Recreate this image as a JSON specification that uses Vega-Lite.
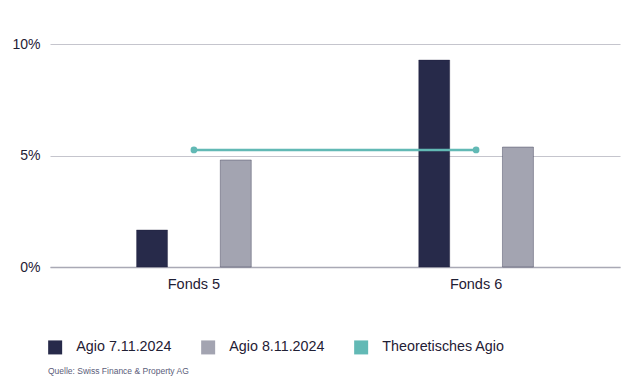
{
  "$schema": "https://vega.github.io/schema/vega-lite/v6.json",
  "width": 570,
  "height": 223,
  "autosize": {"type": "none"},
  "padding": {"left": 50, "top": 44, "right": 21, "bottom": 122},
  "background": "white",
  "title": {
    "text": "Quelle: Swiss Finance & Property AG",
    "orient": "bottom",
    "anchor": "start",
    "frame": "group",
    "offset": 12,
    "dx": -2,
    "fontSize": 8.5,
    "font": "Liberation Sans",
    "fontWeight": "normal",
    "color": "#5b5d7a"
  },
  "data": {
    "values": [
      {"fonds": "Fonds 5", "serie": "Agio 7.11.2024", "wert": 0.0166},
      {"fonds": "Fonds 5", "serie": "Agio 8.11.2024", "wert": 0.048},
      {"fonds": "Fonds 6", "serie": "Agio 7.11.2024", "wert": 0.0928},
      {"fonds": "Fonds 6", "serie": "Agio 8.11.2024", "wert": 0.0538},
      {"fonds": "Fonds 5", "serie": "Theoretisches Agio", "wert": 0.0525},
      {"fonds": "Fonds 6", "serie": "Theoretisches Agio", "wert": 0.0525}
    ]
  },
  "encoding": {
    "x": {
      "field": "fonds",
      "type": "nominal",
      "scale": {"paddingInner": 0, "paddingOuter": 0.01},
      "axis": {
        "title": null,
        "labelAngle": 0,
        "ticks": false,
        "domain": true,
        "domainColor": "#a9a9b5",
        "domainWidth": 1.5,
        "labelPadding": 10,
        "labelFontSize": 14.5,
        "labelColor": "#1f2035",
        "labelFont": "Liberation Sans"
      }
    },
    "y": {
      "field": "wert",
      "type": "quantitative",
      "scale": {"domain": [0, 0.1]},
      "axis": {
        "title": null,
        "values": [0, 0.05, 0.1],
        "format": ".0%",
        "domain": false,
        "ticks": false,
        "grid": true,
        "gridColor": "#c5c5cd",
        "gridWidth": 1.2,
        "labelPadding": 10,
        "labelFontSize": 14,
        "labelColor": "#1f2035",
        "labelFont": "Liberation Sans"
      }
    },
    "color": {
      "field": "serie",
      "type": "nominal",
      "scale": {
        "domain": ["Agio 7.11.2024", "Agio 8.11.2024", "Theoretisches Agio"],
        "range": ["#272a4a", "#a3a4b1", "#62b9b5"]
      },
      "legend": {
        "title": null,
        "orient": "none",
        "legendX": -2,
        "legendY": 296,
        "direction": "horizontal",
        "columns": 3,
        "columnPadding": 29,
        "symbolType": "square",
        "symbolSize": 196,
        "symbolStrokeWidth": 0,
        "symbolOpacity": 1,
        "labelOffset": 14,
        "labelFontSize": 14.3,
        "labelFont": "Liberation Sans",
        "labelColor": "#1f2035"
      }
    }
  },
  "layer": [
    {
      "transform": [{"filter": "datum.serie !== 'Theoretisches Agio'"}],
      "mark": {"type": "bar", "strokeWidth": 1, "stroke": "#1c1e38", "strokeOpacity": 0.35},
      "encoding": {
        "xOffset": {
          "field": "serie",
          "type": "nominal",
          "scale": {"paddingInner": 0.63, "paddingOuter": 1.1}
        }
      }
    },
    {
      "transform": [{"filter": "datum.serie === 'Theoretisches Agio'"}],
      "mark": {"type": "line", "strokeWidth": 2.5, "point": {"filled": true, "size": 45}}
    }
  ],
  "config": {
    "view": {"stroke": null},
    "font": "Liberation Sans"
  }
}
